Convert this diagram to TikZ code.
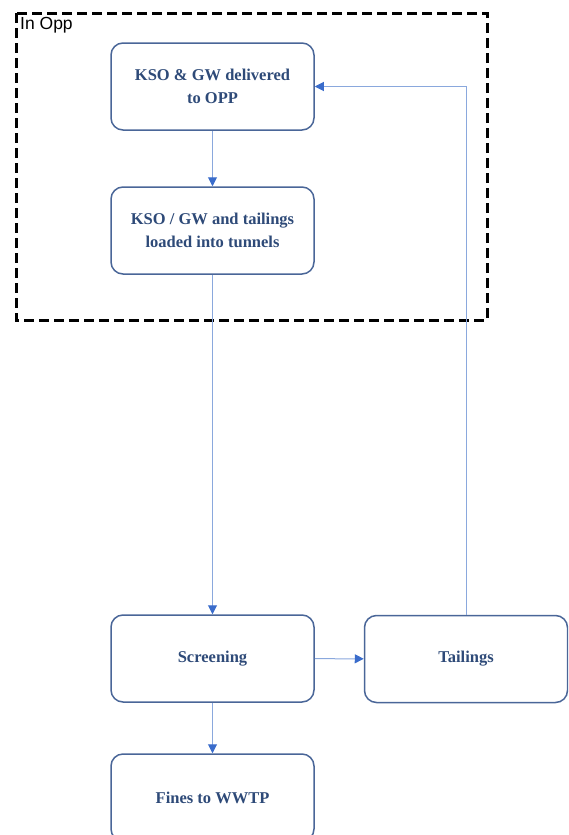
\documentclass[tikz,border=0pt]{standalone}
\usepackage{fontspec}
\setmainfont{Liberation Serif}
\newfontfamily\labelfont{Liberation Sans}
\usetikzlibrary{arrows.meta}
\definecolor{boxline}{HTML}{4A6698}
\definecolor{boxtext}{HTML}{2E4A78}
\definecolor{flowline}{HTML}{8AA8DD}
\definecolor{flowtip}{HTML}{3A6CCB}

\begin{document}
\begin{tikzpicture}[x=1pt, y=-1pt,
        stage/.style={draw=boxline, line width=1.5pt, rounded corners=12pt,
            minimum width=203pt, minimum height=87pt, align=center,
            text=boxtext, font=\fontsize{16.5}{23}\selectfont\bfseries},
        flow/.style={draw=flowline, line width=1pt,
            -{Triangle[width=9pt, length=9pt, color=flowtip]}}]
        \useasboundingbox (0, 0) rectangle (568, 835);
        \clip (0, 0) rectangle (568, 835);
        % The zone
        \draw [line width=3pt, dash pattern=on 10pt off 5pt] (16, 13) rectangle (487, 320);
        \node [anchor=north west, inner sep=0pt, font=\labelfont\fontsize{17.5}{20}\selectfont] (zone) at (20, 17) {In Opp};
        % Stages
        \node [stage] (deliver) at (212.5, 86.5) {KSO \& GW delivered\\to OPP};
        \node [stage] (load) at (212.5, 230.5) {KSO / GW and tailings\\loaded into tunnels};
        \node [stage] (screen) at (212.5, 658.5) {Screening};
        \node [stage] (tail) at (466, 659) {Tailings};
        \node [stage] (fines) at (212.5, 797.5) {Fines to WWTP};
        % Flows
        \draw [flow] (deliver) -- (load);
        \draw [flow] (load) -- (screen);
        \draw [flow] (screen) -- (tail);
        \draw [flow] (screen) -- (fines);
        \draw [flow] (tail.north) |- (deliver.east);
    \end{tikzpicture}
\end{document}
